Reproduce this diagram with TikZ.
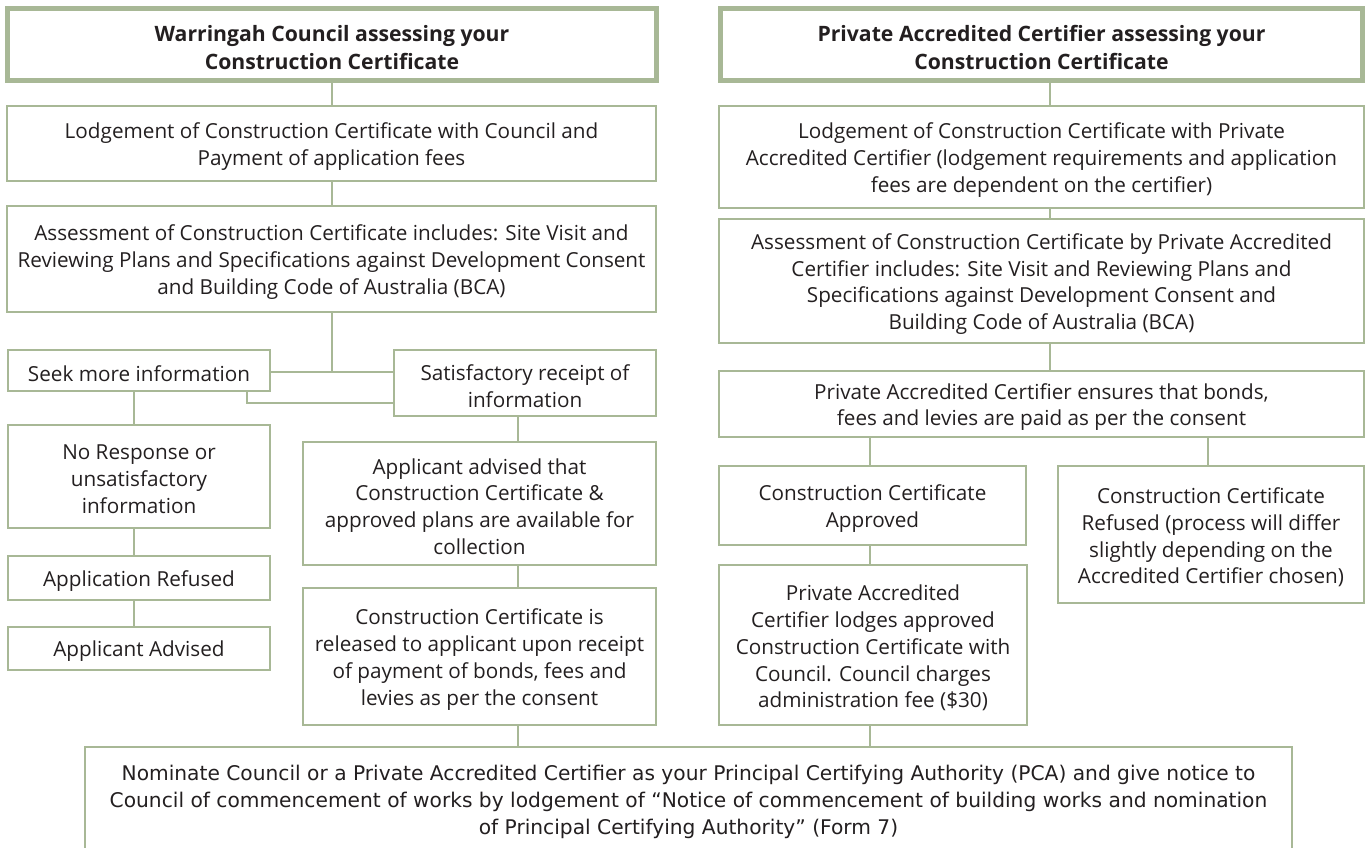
\documentclass[tikz,border=0pt]{standalone}
\usepackage{fontspec}
\setmainfont{Open Sans}
\newfontfamily\bottomf{DejaVu Sans}
\definecolor{sage}{RGB}{168,184,150}
\definecolor{ink}{RGB}{35,31,32}
\tikzset{
  box/.style={draw=sage, line width=2pt, inner sep=0pt, outer sep=1pt, rectangle},
  headbox/.style={box, line width=5pt, outer sep=2.5pt},
  txt/.style={inner sep=0pt, align=center, text=ink, font=\fontsize{20.7}{26.8}\selectfont},
  headtxt/.style={txt, font=\bfseries\fontsize{21.2}{27.5}\selectfont},
  link/.style={draw=sage, line width=2pt},
}
% \bx{x1}{y1}{x2}{y2}{name}{box style}{text style}{text}
\newcommand\bx[8]{%
  \node[#6, minimum width={#3-#1}, minimum height={#4-#2}] (#5) at ({(#1+#3)/2},{(#2+#4)/2}) {};
  \node[#7] (#5-t) at ({(#1+#3)/2},{(#2+#4)/2+3}) {#8};}
\begin{document}
\begin{tikzpicture}[x=1pt,y=-1pt]
\useasboundingbox (0,0) rectangle (1370,847);
% ---- left column ----
\bx{7.5}{8.5}{656.5}{80.5}{LH}{headbox}{headtxt}{Warringah Council assessing your\\Construction Certificate}
\bx{7}{106}{656}{181}{L1}{box}{txt}{Lodgement of Construction Certificate with Council and\\Payment of application fees}
\bx{7}{206}{656}{312}{L2}{box}{txt}{Assessment of Construction Certificate includes: Site Visit and\\Reviewing Plans and Specifications against Development Consent\\and Building Code of Australia (BCA)}
\bx{8}{350}{270}{391}{Seek}{box}{txt}{Seek more information}
\bx{394}{350}{656}{416}{Sat}{box}{txt}{Satisfactory receipt of\\information}
\bx{8}{425}{270}{528}{NoR}{box}{txt}{No Response or\\unsatisfactory\\information}
\bx{8}{556}{270}{600}{ARef}{box}{txt}{Application Refused}
\bx{8}{627}{270}{670}{AAdv}{box}{txt}{Applicant Advised}
\bx{303}{442}{656}{565}{AA}{box}{txt}{Applicant advised that\\Construction Certificate \&\\approved plans are available for\\collection}
\bx{303}{588}{656}{725}{Rel}{box}{txt}{Construction Certificate is\\released to applicant upon receipt\\of payment of bonds, fees and\\levies as per the consent}
% ---- right column ----
\bx{720.5}{8.5}{1362.5}{80.5}{RH}{headbox}{headtxt}{Private Accredited Certifier assessing your\\Construction Certificate}
\bx{719}{106}{1364}{208}{R1}{box}{txt}{Lodgement of Construction Certificate with Private\\Accredited Certifier (lodgement requirements and application\\fees are dependent on the certifier)}
\bx{719}{219}{1364}{343}{R2}{box}{txt}{Assessment of Construction Certificate by Private Accredited\\Certifier includes: Site Visit and Reviewing Plans and\\Specifications against Development Consent and\\Building Code of Australia (BCA)}
\bx{719}{371}{1364}{437}{Ens}{box}{txt}{Private Accredited Certifier ensures that bonds,\\fees and levies are paid as per the consent}
\bx{719}{466}{1026}{545}{Appr}{box}{txt}{Construction Certificate\\Approved}
\bx{1058}{466}{1364}{603}{Refu}{box}{txt}{Construction Certificate\\Refused (process will differ\\slightly depending on the\\Accredited Certifier chosen)}
\bx{719}{565}{1027}{725}{Lodg}{box}{txt}{Private Accredited\\Certifier lodges approved\\Construction Certificate with\\Council. Council charges\\administration fee (\$30)}
% ---- bottom box (open at the bottom) ----
\node[inner sep=0pt, minimum width=1207, minimum height=102] (Nom) at (688.5,798) {};
\node[txt, font=\bottomf\fontsize{20.2}{27}\selectfont] (Nom-t) at (688.5,802)
  {Nominate Council or a Private Accredited Certifier as your Principal Certifying Authority (PCA) and give notice to\\Council of commencement of works by lodgement of “Notice of commencement of building works and nomination\\of Principal Certifying Authority” (Form 7)};
\draw[link] (Nom.south west) -- (Nom.north west) -- (Nom.north east) -- (Nom.south east);
% ---- connector columns ----
\coordinate (cL) at (332,0);
\coordinate (cS) at (134,0);
\coordinate (cM) at (518,0);
\coordinate (cR) at (1050,0);
\coordinate (cA) at (870,0);
\coordinate (cB) at (1208,0);
\coordinate (jy) at (0,372);
\coordinate (ky) at (0,403);
\coordinate (cK) at (247,0);
% ---- left connectors ----
\draw[link] (LH.south -| cL) -- (L1.north -| cL);
\draw[link] (L1.south -| cL) -- (L2.north -| cL);
\draw[link] (L2.south -| cL) -- (cL |- jy);
\draw[link] (Seek.east |- jy) -- (Sat.west |- jy);
\draw[link] (Seek.south -| cK) -- (cK |- ky) -- (Sat.west |- ky);
\draw[link] (Seek.south -| cS) -- (NoR.north -| cS);
\draw[link] (NoR.south -| cS) -- (ARef.north -| cS);
\draw[link] (ARef.south -| cS) -- (AAdv.north -| cS);
\draw[link] (Sat.south -| cM) -- (AA.north -| cM);
\draw[link] (AA.south -| cM) -- (Rel.north -| cM);
\draw[link] (Rel.south -| cM) -- (Nom.north -| cM);
% ---- right connectors ----
\draw[link] (RH.south -| cR) -- (R1.north -| cR);
\draw[link] (R1.south -| cR) -- (R2.north -| cR);
\draw[link] (R2.south -| cR) -- (Ens.north -| cR);
\draw[link] (Ens.south -| cA) -- (Appr.north -| cA);
\draw[link] (Ens.south -| cB) -- (Refu.north -| cB);
\draw[link] (Appr.south -| cA) -- (Lodg.north -| cA);
\draw[link] (Lodg.south -| cA) -- (Nom.north -| cA);
\end{tikzpicture}
\end{document}
